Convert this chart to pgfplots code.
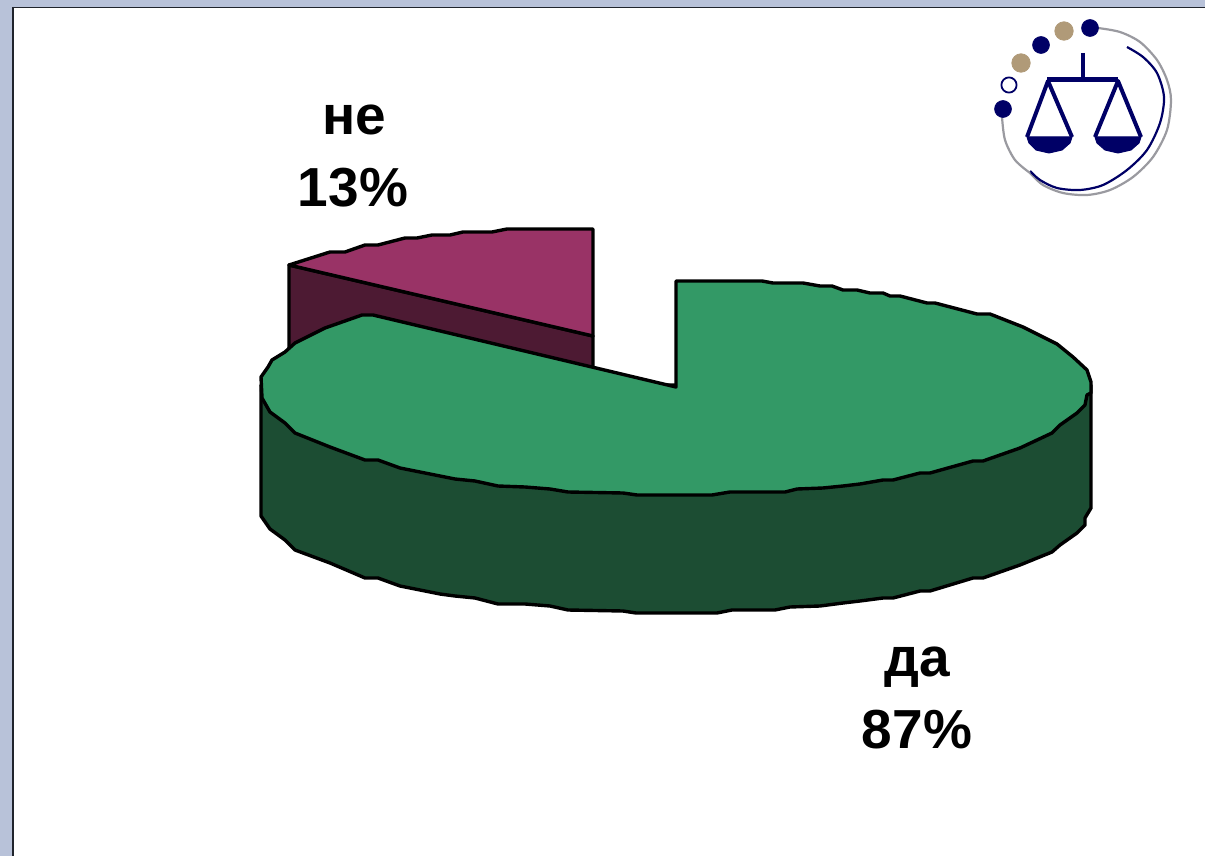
\documentclass[border=0pt]{standalone}
\usepackage{pgfplots}
\pgfplotsset{compat=1.18}
\usepackage{fontspec}
\setmainfont{Liberation Sans}
\definecolor{bgblue}{HTML}{B8C2D9}
\definecolor{framedk}{HTML}{20242C}
\definecolor{gtop}{HTML}{339966}
\definecolor{gside}{HTML}{1C4D33}
\definecolor{mtop}{HTML}{993366}
\definecolor{mside}{HTML}{4D1A33}
\definecolor{navy}{HTML}{000066}
\definecolor{tan}{HTML}{B09A78}
\definecolor{arcgrey}{HTML}{9A9AA0}
\begin{document}
\begin{tikzpicture}
\begin{axis}[
  hide axis, scale only axis, width=602.5pt, height=428pt,
  xmin=0, xmax=1205, ymin=0, ymax=856, y dir=reverse,
  every axis plot/.append style={line join=round},
]
% background and frame
\addplot[draw=none, fill=bgblue] coordinates {(0,0)(1205,0)(1205,856)(0,856)} --cycle;
\addplot[draw=none, fill=white] coordinates {(13,8)(1205,8)(1205,856)(13,856)} --cycle;
\addplot[draw=framedk, line width=0.9pt] coordinates {(1205,7.5)(13,7.5)};
\addplot[draw=framedk, line width=1.3pt] coordinates {(13,7)(13,856)};

% logo arcs
\addplot[arcgrey, line width=1.1pt, smooth] coordinates {(1098,28)(1120,32)(1140,42)(1157,60)(1167,80)(1171,100)(1167,130)(1153,157)(1133,177)(1110,190)(1087,195)(1063,193)(1043,185)(1030,173)};
\addplot[navy, line width=1.1pt, smooth] coordinates {(1127,47)(1143,57)(1157,73)(1164,97)(1160,123)(1147,150)(1127,170)(1103,185)(1080,190)(1057,188)(1040,180)(1030,171)};
\addplot[arcgrey, line width=1.1pt, smooth] coordinates {(1002,117)(1005,140)(1015,160)(1030,173)};
% logo beads
\addplot[only marks, mark=*, mark size=4.6pt, mark options={fill=tan, draw=tan}] coordinates {(1064,31)(1021,63)};
\addplot[only marks, mark=*, mark size=4.2pt, mark options={fill=navy, draw=navy}] coordinates {(1090,28)(1041,45)(1003,109)};
\addplot[only marks, mark=*, mark size=3.8pt, mark options={fill=white, draw=navy, line width=0.9pt}] coordinates {(1009,85)};
% logo scales
\addplot[navy, line width=2.2pt] coordinates {(1083,53)(1083,79)};
\addplot[navy, line width=2.2pt] coordinates {(1047,79.5)(1118,79.5)};
\addplot[navy, line width=2pt] coordinates {(1027,137)(1048,81)(1072,137)};
\addplot[navy, line width=2pt] coordinates {(1095,137)(1118,81)(1141,137)};
\addplot[fill=navy, draw=navy, line width=0.5pt] coordinates {(1027,137)(1029,143)(1036,150)(1049,153)(1062,150)(1070,143)(1072,137)} --cycle;
\addplot[fill=navy, draw=navy, line width=0.5pt] coordinates {(1095,137)(1097,143)(1105,150)(1118,153)(1131,150)(1139,143)(1141,137)} --cycle;

% slice "ne": side
\addplot[draw=black, fill=mside, line width=1.7pt] coordinates {(289,265)(593,336)(593,368)(373,320)(289,360)} --cycle;
% slice "ne": top
\addplot[draw=black, fill=mtop, line width=1.7pt] coordinates {(289,265)(330,252)(345,252)(365,245)(378,245)(405,238)(417,238)(432,235)(450,235)(463,232)(492,232)(507,229)(593,229)(593,336)} --cycle;

% slice "da": side
\addplot[draw=black, fill=gside, line width=1.7pt] coordinates {
 (261,385)(1091,385)(1091,508)(1085,518)(1085,525)(1077,533)(1060,545)(1052,552)(1020,565)(983,578)(973,578)(930,591)(920,591)(893,598)(883,598)(860,601)(843,603)(820,606)(790,607)(775,610)(732,610)(717,613)
 (636,613)(623,611)(568,610)(550,606)(525,604)(498,604)(475,598)(455,596)(440,594)(400,586)(378,578)(365,578)(330,563)(295,550)(285,540)(270,529)(261,516)} --cycle;
% slice "da": top
\addplot[draw=black, fill=gtop, line width=1.7pt] coordinates {
 (676,387)(676,281)(762,281)(773,283)(803,283)(820,286)(832,286)(843,290)(857,290)(870,293)(883,293)(890,296)(900,296)(927,303)(935,303)(977,314)(990,314)(1023,327)(1057,344)(1073,357)(1087,370)(1091,382)(1091,393)
 (1087,395)(1085,405)(1077,413)(1060,425)(1052,433)(1020,448)(983,461)(973,461)(930,473)(920,473)(893,480)(883,480)(860,484)(843,486)(823,488)(797,489)(785,492)(730,492)(712,495)
 (637,495)(623,493)(568,492)(550,489)(525,487)(498,486)(475,481)(455,479)(440,476)(400,468)(378,460)(365,460)(330,447)(295,433)(285,423)(270,412)(262,398)(261,377)(268,367)(272,360)(285,352)(295,343)(325,328)(362,315)(373,315)} --cycle;

% labels
\node[font=\fontsize{27.5}{33}\selectfont\bfseries, anchor=base] at (axis cs:354,134) {не};
\node[font=\fontsize{27.5}{33}\selectfont\bfseries, anchor=base] at (axis cs:353,206) {13\%};
\node[font=\fontsize{27.5}{33}\selectfont\bfseries, anchor=base] at (axis cs:917,676) {да};
\node[font=\fontsize{27.5}{33}\selectfont\bfseries, anchor=base] at (axis cs:917,748) {87\%};
\end{axis}
\end{tikzpicture}
\end{document}
